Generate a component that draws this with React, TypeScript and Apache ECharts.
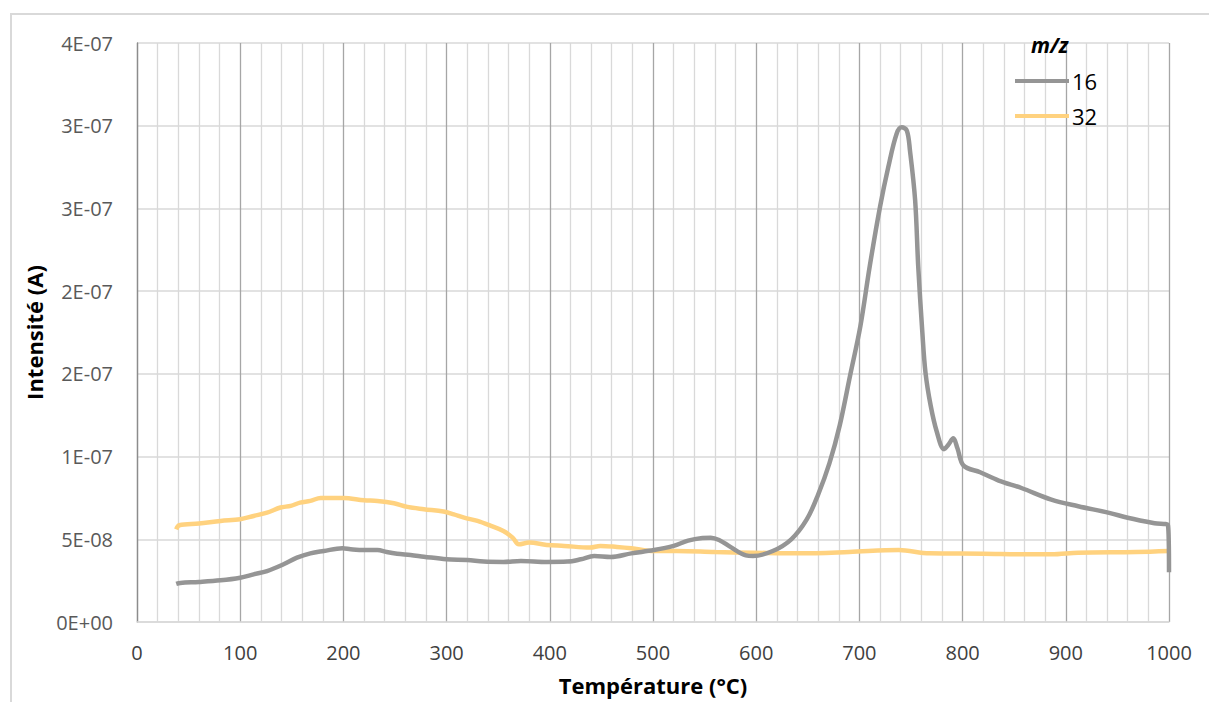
import React, { useEffect, useRef } from "react";
import * as echarts from "echarts";

// m/z 16 (gray)
const temp16 = [38, 42, 60, 81, 100, 113, 126, 142, 155, 168, 181, 199, 207, 220, 233, 242, 252, 265, 278, 300, 320, 336, 355, 372, 397, 417, 430, 443, 459, 479, 501, 520, 534, 548, 556, 564, 575, 590, 597, 616, 634, 649, 660, 671, 681, 691, 701, 710, 720, 728, 736, 741, 746, 749, 754, 757, 761, 764, 769, 775, 782, 786, 791, 795, 801, 817, 835, 857, 886, 912, 942, 960, 986, 999, 1000];
const val16 = [2.3, 2.36, 2.42, 2.52, 2.68, 2.88, 3.08, 3.49, 3.89, 4.15, 4.29, 4.46, 4.4, 4.35, 4.35, 4.23, 4.13, 4.05, 3.95, 3.79, 3.75, 3.65, 3.63, 3.69, 3.63, 3.65, 3.79, 3.99, 3.93, 4.15, 4.35, 4.6, 4.92, 5.08, 5.1, 4.96, 4.54, 4.03, 3.99, 4.29, 5.0, 6.2, 7.7, 9.6, 11.9, 14.9, 17.9, 21.5, 25.1, 27.5, 29.5, 29.9, 29.7, 28.5, 25.5, 21.5, 17.5, 15.1, 13.1, 11.5, 10.45, 10.7, 11.1, 10.5, 9.45, 9.05, 8.55, 8.1, 7.4, 7.0, 6.6, 6.3, 5.97, 5.85, 3.0];

// m/z 32 (yellow)
const temp32 = [38, 41, 60, 81, 100, 113, 126, 139, 149, 158, 168, 178, 187, 200, 220, 233, 249, 262, 278, 297, 307, 317, 330, 343, 355, 364, 370, 380, 397, 414, 439, 449, 465, 479, 501, 523, 560, 597, 642, 690, 738, 768, 820, 860, 886, 912, 968, 1000];
const val32 = [5.6, 5.85, 5.95, 6.11, 6.21, 6.41, 6.61, 6.92, 7.02, 7.22, 7.32, 7.5, 7.5, 7.5, 7.36, 7.32, 7.18, 6.96, 6.82, 6.68, 6.51, 6.31, 6.11, 5.81, 5.5, 5.1, 4.7, 4.8, 4.66, 4.6, 4.5, 4.6, 4.54, 4.46, 4.29, 4.29, 4.23, 4.19, 4.15, 4.23, 4.35, 4.15, 4.13, 4.09, 4.09, 4.19, 4.23, 4.29];

const yTickLabels = ["0E+00", "5E-08", "1E-07", "2E-07", "2E-07", "3E-07", "3E-07", "4E-07"];
const seriesNames = ["16", "32"];

const FONT = "'Open Sans', sans-serif";

export default function App() {
  const ref = useRef<HTMLDivElement>(null);
  useEffect(() => {
    document.body.style.margin = "0";
    const chart = echarts.init(ref.current!, null, { renderer: "svg" });
    const d16 = temp16.map((t, i) => [t, val16[i] * 1e-8]);
    const d32 = temp32.map((t, i) => [t, val32[i] * 1e-8]);
    chart.setOption({
      animation: false,
      backgroundColor: "#ffffff",
      textStyle: { fontFamily: FONT },
      graphic: [
        {
          type: "rect",
          shape: { x: 11, y: 14, width: 1400, height: 900 },
          style: { fill: "none", stroke: "#d9d9d9", lineWidth: 2 },
          silent: true,
        },
      ],
      title: {
        text: "m/z",
        left: 1026,
        top: 29,
        textStyle: { fontFamily: FONT, fontSize: 21, fontWeight: "bold", fontStyle: "italic", color: "#000" },
      },
      legend: {
        orient: "vertical",
        left: 1010,
        top: 65,
        itemWidth: 54,
        itemHeight: 4,
        itemGap: 13,
        icon: "rect",
        data: seriesNames,
        textStyle: { fontFamily: FONT, fontSize: 22, color: "#000", padding: [0, 0, 0, -2] },
      },
      grid: { left: 137, top: 43, right: 40, bottom: 80, containLabel: false },
      xAxis: {
        type: "value",
        min: 0,
        max: 1000,
        interval: 100,
        minorSplitLine: { show: true, lineStyle: { color: "#d9d9d9", width: 1.3 } },
        minorTick: { show: false, splitNumber: 5 },
        splitLine: { show: true, lineStyle: { color: "#a6a6a6", width: 1.3 } },
        axisLine: { show: true, lineStyle: { color: "#d9d9d9", width: 1.5 } },
        axisTick: { show: false },
        axisLabel: {
          margin: 20,
          fontSize: 20,
          color: "#404040",
          fontFamily: FONT,
          formatter: (v: number) => String(v),
        },
        name: "Température (°C)",
        nameLocation: "middle",
        nameGap: 52,
        nameTextStyle: { fontSize: 22, fontWeight: "bold", color: "#000", fontFamily: FONT },
      },
      yAxis: {
        type: "value",
        min: 0,
        max: 3.5e-7,
        interval: 5e-8,
        splitLine: { show: true, lineStyle: { color: "#d9d9d9", width: 1.5 } },
        axisLine: { show: true, lineStyle: { color: "#8c8c8c", width: 1.3 } },
        axisTick: { show: false },
        axisLabel: {
          margin: 24,
          fontSize: 20,
          color: "#595959",
          fontFamily: FONT,
          formatter: (v: number) => yTickLabels[Math.round(v / 5e-8)] ?? "",
        },
        name: "Intensité (A)",
        nameLocation: "middle",
        nameGap: 90,
        nameRotate: 90,
        nameTextStyle: { fontSize: 22, fontWeight: "bold", color: "#000", fontFamily: FONT },
      },
      series: [
        {
          name: seriesNames[0],
          type: "line",
          data: d16,
          showSymbol: false,
          smooth: 0.35,
          lineStyle: { color: "#959595", width: 4.5 },
          itemStyle: { color: "#959595" },
          z: 3,
        },
        {
          name: seriesNames[1],
          type: "line",
          data: d32,
          showSymbol: false,
          smooth: 0.35,
          lineStyle: { color: "#ffd27f", width: 4.5 },
          itemStyle: { color: "#ffd27f" },
          z: 2,
        },
      ],
    });
    return () => chart.dispose();
  }, []);
  return <div ref={ref} style={{ position: "fixed", left: 0, top: 0, width: 1209, height: 702 }} />;
}
